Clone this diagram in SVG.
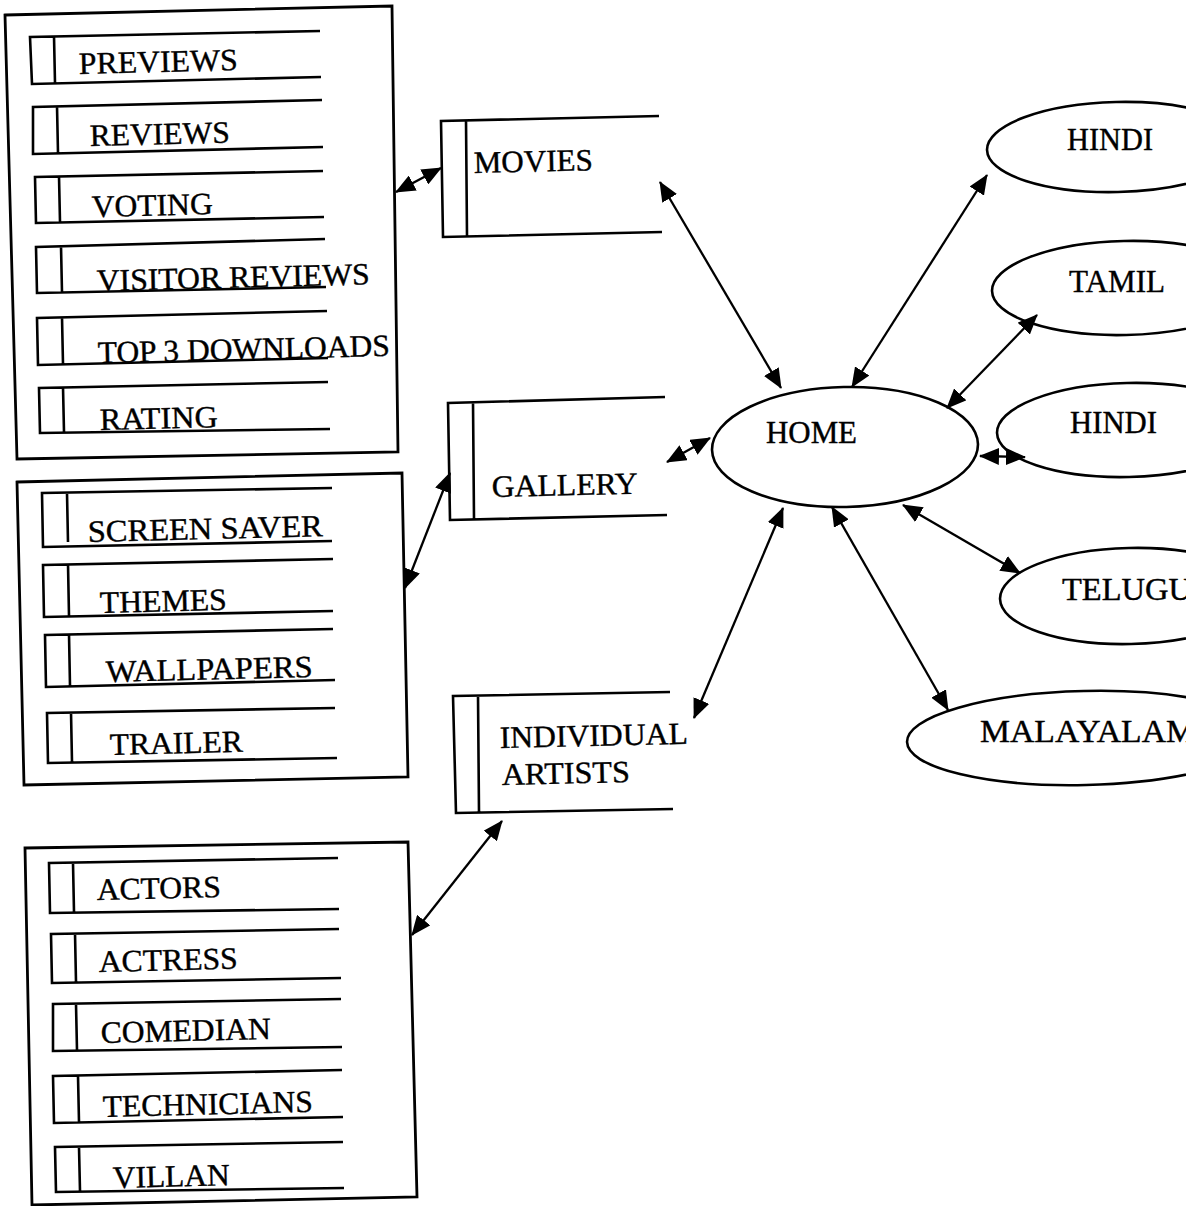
<svg xmlns="http://www.w3.org/2000/svg" width="1186" height="1206" viewBox="0 0 1186 1206">
<defs>
<marker id="ah" viewBox="0 0 20 17" markerWidth="20" markerHeight="17" refX="19" refY="8.5" markerUnits="userSpaceOnUse" orient="auto-start-reverse">
<path d="M0,0 L20,8.5 L0,17 z" fill="#000"/>
</marker>
<style>
.box{fill:none;stroke:#000;stroke-width:2.8;stroke-linejoin:miter}
.ds{fill:none;stroke:#000;stroke-width:2.6}
.el{fill:#fff;stroke:#000;stroke-width:2.6}
.t{font-family:"Liberation Serif","Times New Roman",serif;font-size:31px;fill:#000;stroke:#000;stroke-width:0.4}
.c{fill:none;stroke:#000;stroke-width:2.3;marker-start:url(#ah);marker-end:url(#ah)}
</style>
</defs>
<rect width="1186" height="1206" fill="#fff"/>

<g id="movies-sub">
<polygon class="box" points="5,15 392,6 398,452 17,459"/>
<g id="previews"><path class="ds" d="M320,31 L30,37 L32,84 L321,77 M54,36 L55,83"/><text class="t" x="79" y="74" textLength="159" lengthAdjust="spacingAndGlyphs" transform="rotate(-1.4 79 74)">PREVIEWS</text></g>
<g id="reviews"><path class="ds" d="M322,100 L33,107 L33,154 L323,147 M57,106 L58,153"/><text class="t" x="90" y="146" textLength="140" lengthAdjust="spacingAndGlyphs" transform="rotate(-1.4 90 146)">REVIEWS</text></g>
<g id="voting"><path class="ds" d="M323,171 L35,177 L36,223 L324,217 M59,176 L60,222"/><text class="t" x="92" y="217" textLength="121" lengthAdjust="spacingAndGlyphs" transform="rotate(-1.4 92 217)">VOTING</text></g>
<g id="visitor-reviews"><path class="ds" d="M325,239 L36,247 L37,293 L326,287 M61,246 L62,292"/><text class="t" x="97" y="291" textLength="273" lengthAdjust="spacingAndGlyphs" transform="rotate(-1.4 97 291)">VISITOR REVIEWS</text></g>
<g id="top3"><path class="ds" d="M327,311 L37,318 L38,365 L328,358 M62,317 L63,364"/><text class="t" x="98" y="363" textLength="292" lengthAdjust="spacingAndGlyphs" transform="rotate(-1.4 98 363)">TOP 3 DOWNLOADS</text></g>
<g id="rating"><path class="ds" d="M328,382 L39,388 L40,433 L330,429 M63,387 L64,432"/><text class="t" x="100" y="430" textLength="118" lengthAdjust="spacingAndGlyphs" transform="rotate(-1.4 100 430)">RATING</text></g>
</g>

<g id="gallery-sub">
<polygon class="box" points="17,482 402,473 408,777 24,785"/>
<g id="screen-saver"><path class="ds" d="M332,488 L42,493 L43,547 L332,541 M67,493 L68,542"/><text class="t" x="88" y="542" textLength="235" lengthAdjust="spacingAndGlyphs" transform="rotate(-1.4 88 542)">SCREEN SAVER</text></g>
<g id="themes"><path class="ds" d="M333,559 L43,565 L44,617 L333,611 M68,564 L69,616"/><text class="t" x="100" y="613" textLength="127" lengthAdjust="spacingAndGlyphs" transform="rotate(-1.4 100 613)">THEMES</text></g>
<g id="wallpapers"><path class="ds" d="M333,629 L45,635 L46,687 L335,680 M69,634 L70,686"/><text class="t" x="106" y="682" textLength="207" lengthAdjust="spacingAndGlyphs" transform="rotate(-1.4 106 682)">WALLPAPERS</text></g>
<g id="trailer"><path class="ds" d="M335,708 L47,713 L48,763 L337,758 M71,712 L72,762"/><text class="t" x="110" y="755" textLength="133" lengthAdjust="spacingAndGlyphs" transform="rotate(-1.4 110 755)">TRAILER</text></g>
</g>

<g id="artists-sub">
<polygon class="box" points="25,848 408,842 417,1197 32,1205"/>
<g id="actors"><path class="ds" d="M338,858 L49,863 L50,913 L339,909 M73,863 L74,912"/><text class="t" x="97" y="900" textLength="124" lengthAdjust="spacingAndGlyphs" transform="rotate(-1.4 97 900)">ACTORS</text></g>
<g id="actress"><path class="ds" d="M339,929 L51,934 L52,983 L341,978 M75,933 L76,982"/><text class="t" x="99" y="972" textLength="139" lengthAdjust="spacingAndGlyphs" transform="rotate(-1.4 99 972)">ACTRESS</text></g>
<g id="comedian"><path class="ds" d="M341,999 L53,1004 L53,1051 L342,1047 M76,1004 L77,1050"/><text class="t" x="101" y="1043" textLength="170" lengthAdjust="spacingAndGlyphs" transform="rotate(-1.4 101 1043)">COMEDIAN</text></g>
<g id="technicians"><path class="ds" d="M342,1070 L53,1076 L54,1123 L343,1117 M78,1076 L79,1122"/><text class="t" x="103" y="1117" textLength="210" lengthAdjust="spacingAndGlyphs" transform="rotate(-1.4 103 1117)">TECHNICIANS</text></g>
<g id="villan"><path class="ds" d="M343,1142 L55,1147 L56,1192 L344,1188 M79,1147 L80,1191"/><text class="t" x="113" y="1188" textLength="117" lengthAdjust="spacingAndGlyphs" transform="rotate(-1.4 113 1188)">VILLAN</text></g>
</g>

<g id="movies"><path class="ds" d="M659,116 L441,121 L443,237 L662,232 M466,120 L467,236"/><text class="t" x="474" y="173" textLength="119" lengthAdjust="spacingAndGlyphs" transform="rotate(-1.3 474 173)">MOVIES</text></g>
<g id="gallery"><path class="ds" d="M665,397 L448,403 L450,520 L667,515 M473,402 L474,519"/><text class="t" x="492" y="497" textLength="146" lengthAdjust="spacingAndGlyphs" transform="rotate(-1.3 492 497)">GALLERY</text></g>
<g id="individual-artists"><path class="ds" d="M670,692 L453,696 L456,813 L673,809 M478,695 L479,812"/><text class="t" x="500" y="748" textLength="188" lengthAdjust="spacingAndGlyphs" transform="rotate(-1.3 500 748)">INDIVIDUAL</text><text class="t" x="502" y="785" textLength="128" lengthAdjust="spacingAndGlyphs" transform="rotate(-1.3 502 785)">ARTISTS</text></g>

<g id="home"><ellipse class="el" cx="845" cy="447" rx="133" ry="60" transform="rotate(-1.3 845 447)"/><text class="t" x="766" y="443" textLength="91" lengthAdjust="spacingAndGlyphs">HOME</text></g>
<g id="hindi1"><ellipse class="el" cx="1117" cy="147" rx="130" ry="45" transform="rotate(-1.3 1117 147)"/><text class="t" x="1067" y="150" textLength="86" lengthAdjust="spacingAndGlyphs">HINDI</text></g>
<g id="tamil"><ellipse class="el" cx="1125" cy="288" rx="133" ry="47" transform="rotate(-1.3 1125 288)"/><text class="t" x="1069" y="292" textLength="96" lengthAdjust="spacingAndGlyphs">TAMIL</text></g>
<g id="hindi2"><ellipse class="el" cx="1128" cy="430" rx="131" ry="47" transform="rotate(-1.3 1128 430)"/><text class="t" x="1070" y="433" textLength="87" lengthAdjust="spacingAndGlyphs">HINDI</text></g>
<g id="telugu"><ellipse class="el" cx="1130" cy="596" rx="130" ry="48" transform="rotate(-1.3 1130 596)"/><text class="t" x="1062" y="600" textLength="130" lengthAdjust="spacingAndGlyphs">TELUGU</text></g>
<g id="malayalam"><ellipse class="el" cx="1085" cy="738" rx="178" ry="47" transform="rotate(-1.3 1085 738)"/><text class="t" x="980" y="742" textLength="216" lengthAdjust="spacingAndGlyphs">MALAYALAM</text></g>

<g id="connectors">
<line class="c" x1="396" y1="192" x2="441" y2="168"/>
<line class="c" x1="405" y1="588" x2="450" y2="473"/>
<line class="c" x1="412" y1="935" x2="502" y2="821"/>
<line class="c" x1="660" y1="182" x2="781" y2="388"/>
<line class="c" x1="667" y1="462" x2="710" y2="438"/>
<line class="c" x1="694" y1="718" x2="783" y2="508"/>
<line class="c" x1="852" y1="387" x2="987" y2="175"/>
<line class="c" x1="947" y1="408" x2="1037" y2="315"/>
<line class="c" x1="980" y1="456" x2="1025" y2="457"/>
<line class="c" x1="903" y1="505" x2="1020" y2="573"/>
<line class="c" x1="832" y1="507" x2="948" y2="710"/>
</g>
</svg>
